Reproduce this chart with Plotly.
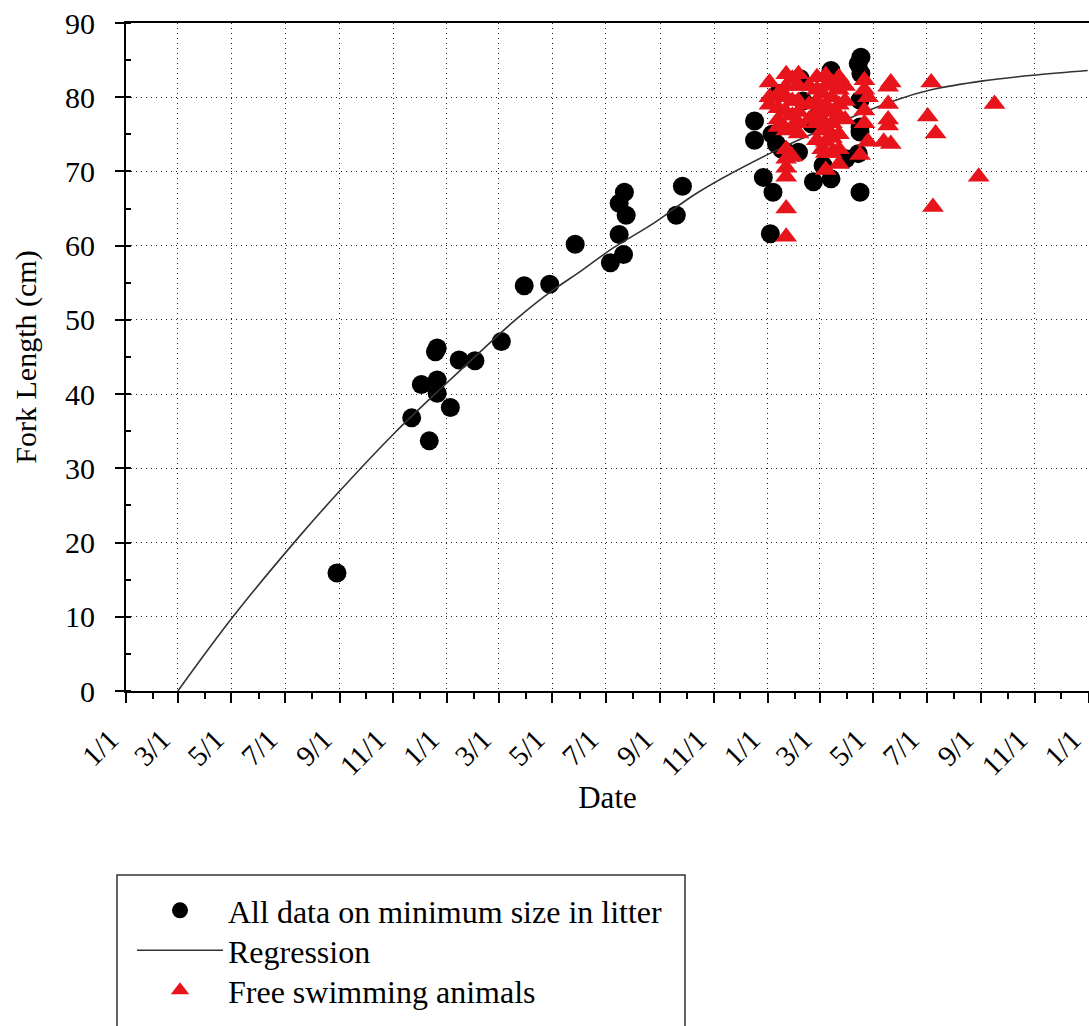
import plotly.graph_objects as go

# ---------------- data ----------------
litter_dates = [
    "2001-08-29", "2001-11-22", "2001-12-03", "2001-12-12", "2001-12-19",
    "2001-12-21", "2001-12-21", "2001-12-21", "2002-01-05", "2002-01-15",
    "2002-02-02", "2002-03-04", "2002-03-30", "2002-04-28", "2002-05-27",
    "2002-07-06", "2002-07-16", "2002-07-21", "2002-07-22", "2002-07-16",
    "2002-07-24", "2002-09-19", "2002-09-26",
    "2002-12-17", "2002-12-17", "2002-12-27", "2003-01-04", "2003-01-07",
    "2003-01-06", "2003-01-11", "2003-01-13", "2003-01-17", "2003-01-24",
    "2003-02-07", "2003-02-05", "2003-02-20", "2003-02-22", "2003-03-05",
    "2003-03-14", "2003-03-14", "2003-03-31", "2003-04-17", "2003-04-14",
    "2003-04-17", "2003-04-16", "2003-04-16", "2003-04-16", "2003-04-16",
    "2003-04-14", "2003-02-10", "2003-02-27",
]
litter_lengths = [
    15.9, 36.8, 41.3, 33.7, 45.7,
    46.2, 41.9, 40.1, 38.2, 44.6,
    44.5, 47.1, 54.6, 54.8, 60.2,
    57.7, 61.5, 58.8, 67.2, 65.7,
    64.1, 64.1, 68.0,
    76.8, 74.2, 69.2, 61.6, 67.2,
    75.0, 73.7, 80.5, 73.0, 72.5,
    82.5, 72.6, 76.4, 68.6, 70.8,
    69.0, 83.6, 71.7, 85.4, 84.5,
    83.2, 79.6, 76.0, 75.3, 67.2,
    72.4, 79.5, 77.5,
]

free_dates = (
    ["2003-01-03"] * 3 + ["2003-01-13"] * 4 + ["2003-01-22"] * 11 +
    ["2003-01-29"] * 5 + ["2003-02-05"] * 6 + ["2003-02-17"] * 3 +
    ["2003-02-26"] * 6 + ["2003-03-04"] * 5 + ["2003-03-08"] * 7 +
    ["2003-03-15"] * 6 + ["2003-03-23"] * 7 + ["2003-03-30"] * 3 +
    ["2003-04-16"] * 1 + ["2003-04-21"] * 4 + ["2003-04-25"] * 2 +
    ["2003-05-13"] * 1 + ["2003-05-18"] * 4 + ["2003-05-21"] * 2 +
    ["2003-07-02", "2003-07-06", "2003-07-08", "2003-07-11",
     "2003-08-29", "2003-09-16"]
)
free_lengths = [
    82.0, 80.0, 79.0,
    80.5, 78.5, 77.0, 76.0,
    83.1, 81.5, 80.0, 78.0, 75.5, 73.0, 71.7, 70.5, 69.3, 65.0, 61.2,
    82.5, 79.5, 77.5, 76.0, 72.0,
    83.1, 81.5, 79.5, 78.0, 76.5, 75.1,
    81.5, 79.0, 77.0,
    82.7, 81.0, 79.5, 78.0, 76.5, 74.2,
    80.5, 78.5, 77.0, 75.5, 73.0,
    83.0, 81.5, 79.0, 76.0, 74.0, 72.5, 70.2,
    82.0, 80.0, 78.0, 76.5, 74.5, 72.5,
    82.7, 81.0, 79.0, 77.5, 75.0, 73.0, 71.0,
    81.5, 79.5, 77.0,
    72.2,
    82.3, 81.0, 78.2, 76.5,
    80.0, 74.0,
    74.0,
    81.4, 79.1, 77.0, 76.2,
    82.0, 73.7,
    77.4, 82.0, 65.2, 75.1,
    69.3, 79.1,
]

regression_dates = [
    "2001-03-01", "2001-05-02", "2001-07-17", "2001-08-31", "2001-11-02",
    "2001-12-31", "2002-02-06", "2002-03-20", "2002-04-27", "2002-06-04",
    "2002-07-08", "2002-08-24", "2002-10-14", "2003-01-03", "2003-03-11",
    "2003-05-29", "2003-07-06", "2003-09-03", "2003-11-02", "2003-12-31",
]
regression_lengths = [
    0.0, 9.9, 20.8, 26.8, 34.7,
    41.4, 45.5, 50.0, 53.6, 56.7,
    59.6, 63.0, 67.2, 72.4, 76.0,
    79.7, 81.0, 82.2, 83.0, 83.6,
]

series_names = ["All data on minimum size in litter", "Regression", "Free swimming animals"]
x_title = "Date"
y_title = "Fork Length (cm)"

# ---------------- figure ----------------
FONT = "Liberation Serif, Times New Roman, serif"
W, H = 1089, 1026
ML, MT, MB, MR = 126, 23, 335, 0
PW, PH = W - ML - MR, H - MT - MB


def px2paper_x(px):
    return (px - ML) / PW


def px2paper_y(py):
    return (H - MB - py) / PH


fig = go.Figure()
fig.add_trace(go.Scatter(
    x=litter_dates, y=litter_lengths, mode="markers", name=series_names[0],
    marker=dict(symbol="circle", size=19, color="#000000", line=dict(width=0)),
    legend="legend",
))
fig.add_trace(go.Scatter(
    x=regression_dates, y=regression_lengths, mode="lines", name=series_names[1],
    line=dict(color="#333333", width=1.6, shape="spline", smoothing=1.0),
    legend="legend2",
))
fig.add_trace(go.Scatter(
    x=free_dates, y=free_lengths, mode="markers", name=series_names[2],
    marker=dict(symbol="triangle-up", size=19, color="#e8141b", line=dict(width=0)),
    legend="legend3",
))

grid = dict(showgrid=True, gridcolor="#222222", gridwidth=1, griddash="1px,4px")

fig.update_xaxes(
    type="date", range=["2001-01-01", "2004-01-01 12:00"],
    tick0="2001-01-01", dtick="M2", tickformat="%-m/%-d", tickangle=-45,
    ticks="outside", ticklen=10, tickwidth=1.5, tickcolor="black",
    minor=dict(dtick="M1", ticks="outside", ticklen=6, tickwidth=1.5, tickcolor="black", showgrid=False),
    showline=True, linecolor="black", linewidth=2, mirror=True,
    zeroline=False, ticklabelstandoff=8, ticklabelshift=-16, ticklabeloverflow="allow",
    tickfont=dict(family=FONT, size=29, color="black"),
    title=dict(text=x_title, font=dict(family=FONT, size=31, color="black"), standoff=6),
    automargin=False, **grid,
)
fig.update_yaxes(
    range=[0, 90], tick0=0, dtick=10,
    ticks="outside", ticklen=9, tickwidth=1.5, tickcolor="black",
    minor=dict(dtick=5, ticks="inside", ticklen=5, tickwidth=1.5, tickcolor="black", showgrid=False),
    showline=True, linecolor="black", linewidth=2, mirror=False,
    zeroline=False, ticklabelstandoff=14,
    tickfont=dict(family=FONT, size=30, color="black"),
    title=dict(text=y_title, font=dict(family=FONT, size=30, color="black"), standoff=20),
    automargin=False, **grid,
)

# legend frame (bottom edge runs off the page as in the original)
fig.add_shape(type="rect", xref="paper", yref="paper",
              x0=px2paper_x(117), x1=px2paper_x(685),
              y0=px2paper_y(1045), y1=px2paper_y(875),
              line=dict(color="#333333", width=1.5), fillcolor="rgba(0,0,0,0)", layer="above")


def legend_at(top_px):
    return dict(
        x=px2paper_x(132), y=px2paper_y(top_px), xanchor="left", yanchor="top",
        bgcolor="rgba(0,0,0,0)", borderwidth=0,
        font=dict(family=FONT, size=32, color="black"),
        itemwidth=86, itemsizing="trace",
    )


fig.update_layout(
    width=W, height=H,
    margin=dict(l=ML, r=MR, t=MT, b=MB, autoexpand=False),
    paper_bgcolor="white", plot_bgcolor="white",
    font=dict(family=FONT, color="black"),
    showlegend=True,
    legend=legend_at(883),
    legend2=legend_at(923),
    legend3=legend_at(963),
)

fig.write_html("out.html")
